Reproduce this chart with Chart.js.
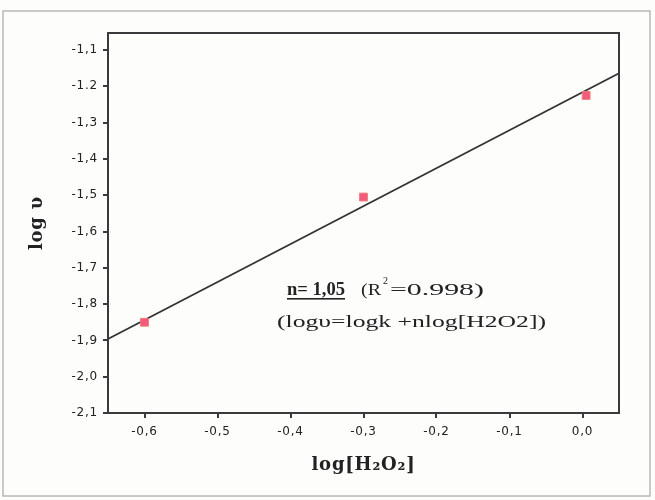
<!DOCTYPE html>
<html>
<head>
<meta charset="utf-8">
<script src="https://cdn.jsdelivr.net/npm/chart.js@4.4.1/dist/chart.umd.min.js"></script>
<style>
  html, body { margin: 0; padding: 0; background: #fdfdfb; }
  #wrap { width: 655px; height: 500px; position: relative; }
</style>
</head>
<body>
<div id="wrap"><canvas id="c" width="655" height="500"></canvas></div>
<script>
// Données
const logH2O2 = [-0.6, -0.3, 0.005];
const logV = [-1.85, -1.505, -1.225];
// Droite d'ajustement (extrémités)
const fitX = [-0.65, 0.05];
const fitY = [-1.896, -1.164];
const xTickLabels = { '-0.6': '-0,6', '-0.5': '-0,5', '-0.4': '-0,4', '-0.3': '-0,3', '-0.2': '-0,2', '-0.1': '-0,1', '0': '0,0' };
const yTickLabels = { '-1.1': '-1,1', '-1.2': '-1.2', '-1.3': '-1,3', '-1.4': '-1,4', '-1.5': '-1,5', '-1.6': '-1,6',
                      '-1.7': '-1,7', '-1.8': '-1,8', '-1.9': '-1,9', '-2': '-2,0', '-2.1': '-2,1' };

// Écrit un texte étiré à une largeur donnée
function fitText(ctx, text, x, y, targetW) {
    const w = ctx.measureText(text).width;
    ctx.save();
    ctx.translate(x, y);
    ctx.scale(targetW / w, 1);
    ctx.fillText(text, 0, 0);
    ctx.restore();
}

// Cadre du graphique + bordure de l'image + annotation
const framePlugin = {
    id: 'frame',
    beforeDraw(chart) {
        const ctx = chart.ctx;
        ctx.letterSpacing = '0.8px';
        ctx.save();
        ctx.strokeStyle = '#b8b8b8';
        ctx.lineWidth = 1.5;
        ctx.strokeRect(3, 11, 647, 485);
        ctx.restore();
    },
    afterDraw(chart) {
        const { ctx, chartArea: a } = chart;
        ctx.save();
        ctx.letterSpacing = '0px';
        ctx.strokeStyle = '#3a3a3a';
        ctx.lineWidth = 2;
        ctx.strokeRect(a.left, a.top, a.right - a.left, a.bottom - a.top);

        ctx.fillStyle = '#222';
        ctx.textBaseline = 'alphabetic';
        ctx.font = 'bold 18px "Liberation Serif", serif';
        fitText(ctx, 'n= 1,05', 287, 295, 58);
        ctx.fillRect(287, 298, 58, 1.6);
        ctx.font = '17px "Liberation Serif", serif';
        fitText(ctx, '(R', 361, 295, 20);
        ctx.font = '10px "Liberation Serif", serif';
        ctx.fillText('2', 383, 284);
        ctx.font = '17px "Liberation Serif", serif';
        fitText(ctx, '=0.998)', 390, 295, 94);
        fitText(ctx, '(logυ=logk +nlog[H2O2])', 277, 327, 269);
        ctx.restore();
    }
};

new Chart(document.getElementById('c'), {
    type: 'scatter',
    data: {
        datasets: [
            {
                label: 'points',
                data: logH2O2.map((x, i) => ({ x: x, y: logV[i] })),
                pointStyle: 'rect',
                pointRadius: 5.5,
                pointBackgroundColor: '#f25a80',
                pointBorderColor: '#f07a70',
                pointBorderWidth: 1,
                order: 0
            },
            {
                label: 'ajustement',
                type: 'line',
                data: fitX.map((x, i) => ({ x: x, y: fitY[i] })),
                borderColor: '#333',
                borderWidth: 1.6,
                pointRadius: 0,
                fill: false,
                order: 1
            }
        ]
    },
    options: {
        responsive: false,
        animation: false,
        layout: { padding: { left: 0, right: 36, top: 33, bottom: 0 } },
        plugins: { legend: { display: false }, tooltip: { enabled: false } },
        scales: {
            x: {
                type: 'linear',
                min: -0.65,
                max: 0.05,
                afterFit: s => { s.height = 87; },
                afterBuildTicks: s => { s.ticks = Object.keys(xTickLabels).map(v => ({ value: +v })); },
                ticks: {
                    callback: v => xTickLabels[String(Math.round(v * 10) / 10)] || '',
                    color: '#222',
                    font: { family: '"DejaVu Sans", sans-serif', size: 12 },
                    padding: 7,
                    maxRotation: 0
                },
                grid: { drawOnChartArea: false, tickLength: 5, color: '#3a3a3a', lineWidth: 2 },
                border: { color: '#3a3a3a', width: 2 },
                title: {
                    display: true,
                    text: 'log[H₂O₂]',
                    color: '#222',
                    font: { family: '"DejaVu Serif", serif', size: 18, weight: 'bold' },
                    padding: { top: 0, bottom: 24 }
                }
            },
            y: {
                type: 'linear',
                min: -2.1,
                max: -1.053,
                afterFit: s => { s.width = 108; },
                afterBuildTicks: s => { s.ticks = Object.keys(yTickLabels).map(v => ({ value: +v })); },
                ticks: {
                    callback: v => yTickLabels[String(Math.round(v * 10) / 10)] || '',
                    color: '#222',
                    font: { family: '"DejaVu Sans", sans-serif', size: 12 },
                    padding: 5
                },
                grid: { drawOnChartArea: false, tickLength: 5, color: '#3a3a3a', lineWidth: 2 },
                border: { color: '#3a3a3a', width: 2 },
                title: {
                    display: true,
                    text: 'log υ',
                    color: '#222',
                    font: { family: '"DejaVu Serif", serif', size: 18, weight: 'bold' },
                    padding: { top: 27, bottom: 0 }
                }
            }
        }
    },
    plugins: [framePlugin]
});
</script>
</body>
</html>
